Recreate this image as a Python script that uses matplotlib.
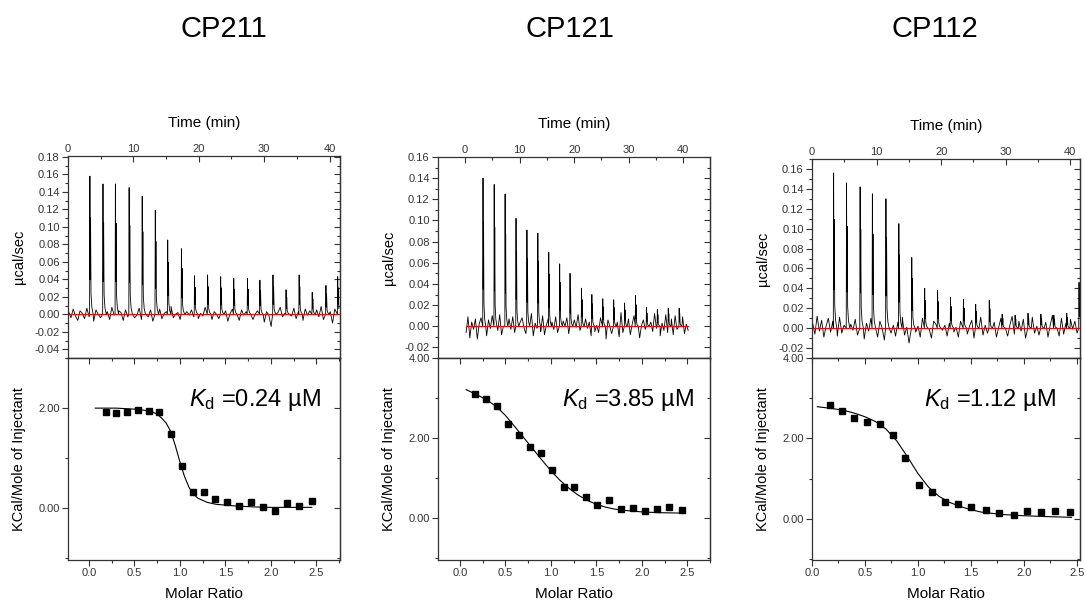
import numpy as np
import matplotlib.pyplot as plt
from matplotlib.ticker import MultipleLocator, FormatStrFormatter

plt.rcParams['font.family'] = ['Liberation Sans', 'DejaVu Sans']
plt.rcParams['mathtext.fontset'] = 'custom'
plt.rcParams['mathtext.rm'] = 'Liberation Sans'
plt.rcParams['mathtext.it'] = 'Liberation Sans:italic'
plt.rcParams['axes.unicode_minus'] = False

names = ['CP211', 'CP121', 'CP112']
kd_values = ['0.24', '3.85', '1.12']

# raw thermograms: injection times (min), peak heights (ucal/sec)
inj_1 = [3.3, 5.3, 7.2, 9.3, 11.3, 13.3, 15.2, 17.3, 19.3, 21.3,
         23.3, 25.3, 27.4, 29.3, 31.3, 33.3, 35.3, 37.3, 39.4, 41.2]
peak_1 = [0.158, 0.149, 0.149, 0.145, 0.135, 0.119, 0.085, 0.075, 0.044, 0.045,
          0.043, 0.041, 0.041, 0.039, 0.045, 0.028, 0.045, 0.025, 0.033, 0.043]
inj_2 = [3.25, 5.3, 7.3, 9.3, 11.3, 13.3, 15.3, 17.3, 19.2, 21.3,
         23.2, 25.2, 27.2, 29.2, 31.2, 33.2, 35.2, 37.2, 39.2]
peak_2 = [0.140, 0.134, 0.125, 0.102, 0.091, 0.088, 0.070, 0.059, 0.050, 0.036,
          0.030, 0.026, 0.025, 0.022, 0.029, 0.018, 0.016, 0.017, 0.017]
inj_3 = [3.3, 5.3, 7.4, 9.3, 11.4, 13.4, 15.4, 17.4, 19.4, 21.4,
         23.4, 25.3, 27.4, 29.4, 31.4, 33.4, 35.4, 37.4, 39.4, 41.3]
peak_3 = [0.156, 0.146, 0.142, 0.135, 0.130, 0.105, 0.071, 0.040, 0.038, 0.031,
          0.029, 0.024, 0.028, 0.014, 0.013, 0.015, 0.014, 0.013, 0.015, 0.046]

# baseline wiggle between injections (x 1e-3 ucal/sec)
noise_1 = [3, -4, 6, -2, -7, 4, 1, -5, 7, -3, 2, -8, 5, 0, -4, 6, -2, 3, -6, 8,
           -1, -5, 4, 2, -7, 5, -3, 1, 6, -4, -1, 7, -6, 2, 0, -3, 5, -8, 4, -2,
           6, -5, 1, 3, -7, 9, -4, 0, 2, -6, 4, -13, 3, -1, 5, -3, 7, -5, 1, -2,
           8, -4, 2, -6, 3, 0, -5, 7, -2, 4, -8, 1, 6, -3, 2, -7, 5, -1, 3, -4,
           7, -6, 0, 4, -2, 6, -9, 3, -1, -14, 5, -4, 2, 8, -3, 1, -6, 4, -2, 7,
           -5, 3, 0, -7, 6, -1, 4, -8, 2, 5, -3, 9, -6, 1, -4, 3, -10, 6, -2, 0]
noise_2 = [-6, 9, -11, 4, -3, 7, -12, 2, 8, -5, 1, -9, 6, -2, 10, -7, 3, -4, 11, -8,
           0, 5, -10, 7, -3, 9, -6, 2, -13, 4, 8, -1, -7, 5, -4, 12, -9, 3, -2, 6,
           -5, 10, -8, 1, 7, -11, 4, -3, 9, -6, 2, -10, 5, 0, 8, -7, 3, -15, 6, -1,
           11, -4, 2, -8, 7, -2, 4, -9, 10, -5, 1, -6, 8, -3, 5, -12, 6, 0, -7, 9,
           -2, 4, -10, 13, -6, 3, -1, 7, -8, 2, 10, -4, 5, -11, 1, 6, -3, 9, -7, 4,
           -5, 12, -2, 8, -9, 3, -4, 11, -6, 1, 7, -8, 10, -3, 5, -1, 9, -7, 2, -4]
noise_3 = [5, -6, 12, -3, 8, -9, 2, 10, -4, 7, -1, -8, 11, -5, 3, 6, -10, 4, -2, 9,
           -7, 1, 8, -11, 5, -3, 10, -6, 2, -9, 7, 0, -12, 4, 9, -5, 3, -8, 6, -2,
           11, -7, 1, -15, 5, 8, -4, 2, -9, 10, -3, 6, -1, -10, 7, 4, -6, 9, -2, 3,
           -8, 5, 12, -4, 1, -9, 7, -3, 10, -6, 2, 8, -10, 4, -1, 11, -7, 3, -5, 9,
           -2, 6, -9, 1, 10, -4, 5, -8, 3, 12, -6, 0, 7, -3, 9, -10, 4, -1, 11, -5,
           2, -7, 8, -2, 6, -9, 3, 13, -4, 1, -8, 10, -6, 5, -3, 9, -1, 7, -5, 2]
time_span = [(0.1, 41.5), (0.2, 40.9), (0.1, 41.4)]

# integrated heats: molar ratio vs kcal/mole of injectant
ratio_1 = [0.19, 0.30, 0.42, 0.54, 0.66, 0.77, 0.90, 1.02, 1.14, 1.27,
           1.39, 1.52, 1.65, 1.78, 1.91, 2.04, 2.18, 2.31, 2.45]
heat_1 = [1.93, 1.91, 1.93, 1.97, 1.95, 1.92, 1.48, 0.85, 0.33, 0.33,
          0.19, 0.13, 0.05, 0.13, 0.02, -0.05, 0.10, 0.05, 0.15]
ratio_2 = [0.17, 0.29, 0.41, 0.53, 0.65, 0.77, 0.89, 1.01, 1.14, 1.26,
           1.39, 1.51, 1.64, 1.77, 1.90, 2.04, 2.17, 2.30, 2.44]
heat_2 = [3.09, 2.98, 2.81, 2.36, 2.07, 1.79, 1.63, 1.21, 0.77, 0.77,
          0.53, 0.33, 0.45, 0.22, 0.25, 0.18, 0.22, 0.27, 0.21]
ratio_3 = [0.17, 0.28, 0.40, 0.52, 0.64, 0.76, 0.88, 1.01, 1.13, 1.26,
           1.38, 1.50, 1.64, 1.77, 1.91, 2.03, 2.16, 2.29, 2.44]
heat_3 = [2.83, 2.68, 2.51, 2.41, 2.37, 2.08, 1.52, 0.85, 0.67, 0.41,
          0.36, 0.30, 0.23, 0.14, 0.10, 0.21, 0.17, 0.21, 0.17]

# fitted curves
fit_x1 = [0.07, 0.3, 0.5, 0.6, 0.7, 0.75, 0.8, 0.85, 0.9, 0.95, 1.0,
          1.05, 1.1, 1.15, 1.2, 1.3, 1.4, 1.6, 1.8, 2.0, 2.45]
fit_y1 = [2.00, 2.00, 1.98, 1.96, 1.92, 1.88, 1.80, 1.70, 1.53, 1.25, 0.93,
          0.64, 0.42, 0.28, 0.20, 0.12, 0.08, 0.05, 0.03, 0.02, 0.02]
fit_x2 = [0.07, 0.2, 0.3, 0.4, 0.5, 0.6, 0.7, 0.8, 0.9, 1.0, 1.1,
          1.2, 1.3, 1.4, 1.5, 1.6, 1.7, 1.8, 2.0, 2.2, 2.45]
fit_y2 = [3.21, 3.07, 2.95, 2.79, 2.57, 2.30, 2.02, 1.74, 1.46, 1.19, 0.95,
          0.75, 0.58, 0.45, 0.35, 0.28, 0.23, 0.20, 0.16, 0.14, 0.13]
fit_x3 = [0.05, 0.2, 0.3, 0.4, 0.5, 0.6, 0.7, 0.8, 0.9, 1.0,
          1.1, 1.2, 1.3, 1.4, 1.5, 1.6, 1.8, 2.0, 2.2, 2.45]
fit_y3 = [2.79, 2.74, 2.70, 2.63, 2.54, 2.42, 2.23, 1.94, 1.55, 1.13,
          0.79, 0.56, 0.41, 0.31, 0.23, 0.17, 0.11, 0.08, 0.06, 0.04]

raw = [(inj_1, peak_1, noise_1), (inj_2, peak_2, noise_2), (inj_3, peak_3, noise_3)]
heats = [(ratio_1, heat_1, fit_x1, fit_y1), (ratio_2, heat_2, fit_x2, fit_y2),
         (ratio_3, heat_3, fit_x3, fit_y3)]

# injection spike profile (min after injection, fraction of peak)
shape_dt = [0.0, 0.05, 0.10, 0.15, 0.22, 0.35, 0.55]
shape_frac = [0.0, 1.0, 0.25, 0.7, 0.15, 0.05, 0.0]


def thermogram(t0, t1, inj, peaks, noise):
    tn = np.linspace(t0, t1, len(noise))
    yn = np.array(noise) * 1e-3
    keep = np.ones(len(tn), bool)
    for ti in inj:
        keep &= ~((tn > ti - 0.05) & (tn < ti + shape_dt[-1]))
    t = list(tn[keep])
    y = list(yn[keep])
    for ti, h in zip(inj, peaks):
        for dt, f in zip(shape_dt, shape_frac):
            if ti + dt <= t1:
                t.append(ti + dt)
                y.append(h * f)
    order = np.argsort(t)
    return np.array(t)[order], np.array(y)[order]


def side_ticks(ax, axis, major, minor):
    # Origin style: opposite spine gets inward ticks without labels
    if axis == 'y':
        sec = ax.secondary_yaxis('right')
        loc = sec.yaxis
    else:
        sec = ax.secondary_xaxis('top')
        loc = sec.xaxis
    loc.set_major_locator(MultipleLocator(major))
    loc.set_minor_locator(MultipleLocator(minor))
    sec.tick_params(which='both', direction='in', labelright=False, labeltop=False,
                    color='#333333', width=0.8)
    sec.tick_params(which='major', length=4)
    sec.tick_params(which='minor', length=2)
    for s in sec.spines.values():
        s.set_linewidth(0.9)
        s.set_color('#333333')


W, H = 1085, 604
lefts = [68, 438, 812]
widths = [272, 272, 268]
tops = [156, 157, 159]
mid, bottom = 358, 560
time_lims = [(0, 41.6), (-4.95, 44.9), (0, 41.5)]
raw_ylims = [(-0.05, 0.181), (-0.03, 0.16), (-0.03, 0.17)]
ratio_lims = [(-0.23, 2.76), (-0.24, 2.75), (0, 2.53)]
heat_ylims = [(-1.03, 3.0), (-1.04, 4.0), (-1.02, 4.0)]
title_x = [224, 570, 935]
kd_x = [0.93, 0.94, 0.91]

fig = plt.figure(figsize=(W / 100, H / 100), dpi=100)

for i in range(3):
    l, w = lefts[i] / W, widths[i] / W
    ax_top = fig.add_axes([l, 1 - mid / H, w, (mid - tops[i]) / H])
    ax_bot = fig.add_axes([l, 1 - bottom / H, w, (bottom - mid) / H])

    inj, peaks, noise = raw[i]
    t0, t1 = time_span[i]
    t, y = thermogram(t0, t1, inj, peaks, noise)
    ax_top.plot(t, y, color='black', lw=0.6)
    ax_top.plot([t0, t1], [0, 0], color='red', lw=0.8)
    ax_top.set_xlim(*time_lims[i])
    ax_top.set_ylim(*raw_ylims[i])
    ax_top.xaxis.tick_top()
    ax_top.xaxis.set_label_position('top')
    ax_top.xaxis.set_major_locator(MultipleLocator(10))
    ax_top.xaxis.set_minor_locator(MultipleLocator(5))
    ax_top.yaxis.set_major_locator(MultipleLocator(0.02))
    ax_top.yaxis.set_minor_locator(MultipleLocator(0.01))
    ax_top.yaxis.set_major_formatter(FormatStrFormatter('%.2f'))
    ax_top.tick_params(axis='x', which='both', direction='in')
    ax_top.tick_params(axis='y', which='both', direction='out', right=False)
    ax_top.set_xlabel('Time (min)', fontsize=11, labelpad=12)
    ax_top.set_ylabel('µcal/sec', fontsize=10.5)
    ax_top.yaxis.set_label_coords(-0.155, 0.5)
    side_ticks(ax_top, 'y', 0.02, 0.01)

    rx, hy, fx, fy = heats[i]
    ax_bot.plot(fx, fy, color='black', lw=0.8)
    ax_bot.plot(rx, hy, 's', color='black', markersize=5)
    ax_bot.set_xlim(*ratio_lims[i])
    ax_bot.set_ylim(*heat_ylims[i])
    ax_bot.xaxis.set_major_locator(MultipleLocator(0.5))
    ax_bot.xaxis.set_minor_locator(MultipleLocator(0.25))
    ax_bot.xaxis.set_major_formatter(FormatStrFormatter('%.1f'))
    ax_bot.yaxis.set_major_locator(MultipleLocator(2))
    ax_bot.yaxis.set_minor_locator(MultipleLocator(1))
    ax_bot.yaxis.set_major_formatter(FormatStrFormatter('%.2f'))
    ax_bot.tick_params(which='both', direction='out', right=False, top=False)
    ax_bot.set_xlabel('Molar Ratio', fontsize=11, labelpad=6)
    ax_bot.set_ylabel('KCal/Mole of Injectant', fontsize=10.5)
    ax_bot.yaxis.set_label_coords(-0.155, 0.5)
    side_ticks(ax_bot, 'y', 2, 1)
    side_ticks(ax_bot, 'x', 0.5, 0.25)
    ax_bot.text(kd_x[i], 0.79, r'$K_\mathrm{d}$ =' + kd_values[i] + ' µM',
                transform=ax_bot.transAxes, ha='right', va='center', fontsize=17)

    for ax in (ax_top, ax_bot):
        ax.tick_params(which='both', labelsize=8, labelcolor='#333333',
                       color='#333333', width=0.8, pad=1.5)
        ax.tick_params(which='major', length=4.5)
        ax.tick_params(which='minor', length=2)
        for s in ax.spines.values():
            s.set_linewidth(0.9)
            s.set_color('#333333')

    fig.text(title_x[i] / W, 1 - 29 / H, names[i], ha='center', va='center', fontsize=21)

fig.savefig('out.png', dpi=100)
